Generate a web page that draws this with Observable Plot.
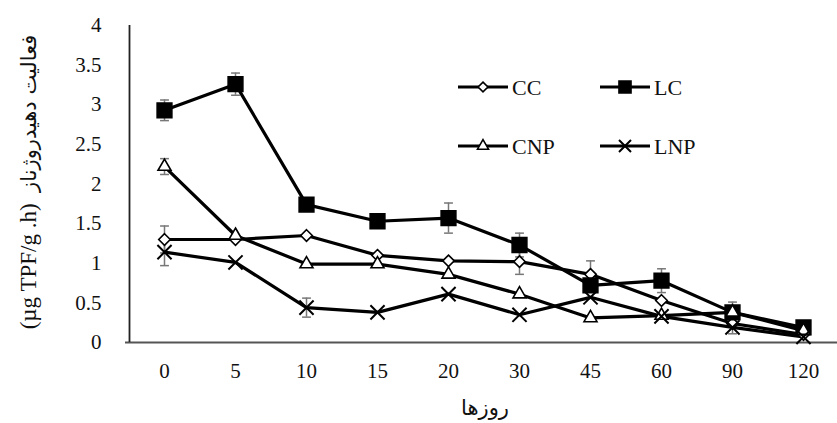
<!DOCTYPE html>
<html><head><meta charset="utf-8">
<script src="https://cdn.jsdelivr.net/npm/d3@7"></script>
<script src="https://cdn.jsdelivr.net/npm/@observablehq/plot@0.6"></script>
<style>
body{margin:0;background:#fff;}
#wrap{position:relative;width:837px;height:423px;overflow:hidden;font-family:"Liberation Serif","Times New Roman","DejaVu Sans",serif;}
.ylab{position:absolute;left:29px;top:182px;transform:translate(-50%,-50%) rotate(-90deg);white-space:nowrap;font-size:23px;color:#111;direction:ltr;}
.ylab .fa{direction:rtl;unicode-bidi:isolate;font-family:"DejaVu Sans",sans-serif;font-size:21px;}
.ylab .en{direction:ltr;unicode-bidi:isolate;}
.xlab{position:absolute;left:485px;top:408px;transform:translate(-50%,-50%);white-space:nowrap;font-size:21px;color:#111;font-family:"DejaVu Sans",sans-serif;}
#legend{position:absolute;left:0;top:0;}
</style></head><body><div id="wrap"></div>
<script>
const days = ["0","5","10","15","20","30","45","60","90","120"];
const yTicks = [0,0.5,1,1.5,2,2.5,3,3.5,4];
const seriesNames = ["CC","LC","CNP","LNP"];
const cc  = [1.30,1.30,1.35,1.10,1.03,1.02,0.86,0.53,0.24,0.10];
const lc  = [2.93,3.26,1.74,1.53,1.57,1.23,0.72,0.78,0.38,0.19];
const cnp = [2.22,1.35,0.99,0.99,0.86,0.61,0.31,0.34,0.38,0.15];
const lnp = [1.14,1.01,0.44,0.38,0.61,0.35,0.57,0.33,0.19,0.07];
const ccErr  = [0.17,0,0,0,0,0.16,0.17,0,0,0];
const lcErr  = [0.13,0.14,0,0,0.19,0.15,0,0.15,0.13,0];
const cnpErr = [0.10,0,0,0,0,0,0,0,0,0];
const lnpErr = [0.17,0,0.12,0,0,0,0,0,0.08,0];
const xLabel = "روزها";
const yLabelUnit = "(µg TPF/g .h)";
const yLabelText = "فعالیت دهیدروژناز";

const vals = {CC:cc, LC:lc, CNP:cnp, LNP:lnp};
const errs = {CC:ccErr, LC:lcErr, CNP:cnpErr, LNP:lnpErr};
const style = {
  CC:  {symbol:"diamond2", r:5.2, fill:"white"},
  LC:  {symbol:"square", r:8.3, fill:"black"},
  CNP: {symbol:"triangle2", r:6.2, fill:"white"},
  LNP: {symbol:"times", r:6.5, fill:"none"}
};
const data = [];
for (const s of seriesNames) days.forEach((d,i)=>data.push({series:s, day:d, v:vals[s][i], e:errs[s][i]}));
const errData = data.filter(d=>d.e>0);

const capSymbol = {draw(ctx, size){ const w=Math.sqrt(size)/2; ctx.moveTo(-w,0); ctx.lineTo(w,0); }};

const marks = [
  Plot.ruleY([0], {stroke:"#555", strokeWidth:2.2}),
  Plot.ruleX([days[0]], {dx:-35, stroke:"#222", strokeWidth:1.8}),
  Plot.axisY({ticks:yTicks, tickSize:0, tickPadding:24, tickFormat:d=>String(d), fontSize:21, label:null}),
  Plot.axisX({tickSize:0, tickPadding:21, fontSize:21, label:null, style:"letter-spacing:5px"}),
  Plot.ruleX(errData, {x:"day", y1:d=>d.v-d.e, y2:d=>d.v+d.e, stroke:"#777", strokeWidth:1.5}),
  Plot.dot(errData, {x:"day", y:d=>d.v+d.e, symbol:capSymbol, r:5, stroke:"#777", strokeWidth:1.5}),
  Plot.dot(errData, {x:"day", y:d=>d.v-d.e, symbol:capSymbol, r:5, stroke:"#777", strokeWidth:1.5}),
  Plot.line(data, {x:"day", y:"v", z:"series", stroke:"black", strokeWidth:3.2})
];
for (const s of seriesNames) {
  const st = style[s];
  marks.push(Plot.dot(data.filter(d=>d.series===s), {x:"day", y:"v", symbol:st.symbol, r:st.r, fill:st.fill, stroke:"black", strokeWidth: s==="LNP"?2:1.6}));
}

const chart = Plot.plot({
  width:837, height:423,
  marginLeft:125, marginRight:0, marginTop:25, marginBottom:81,
  style:{fontFamily:"Liberation Serif, Times New Roman, serif", color:"#111", background:"white", overflow:"visible"},
  x:{type:"point", domain:days, range:[160,807], padding:0},
  y:{domain:[0,4]},
  marks
});
const wrap = document.getElementById("wrap");
wrap.appendChild(chart);

// labels
const yl = document.createElement("div"); yl.className="ylab";
const en = document.createElement("span"); en.className="en"; en.textContent=yLabelUnit;
const sp = document.createTextNode("\u00a0\u00a0");
const fa = document.createElement("span"); fa.className="fa"; fa.textContent=yLabelText;
yl.appendChild(en); yl.appendChild(sp); yl.appendChild(fa);
wrap.appendChild(yl);
const xl = document.createElement("div"); xl.className="xlab"; xl.textContent=xLabel; wrap.appendChild(xl);

// legend
const leg = d3.select(wrap).append("svg").attr("id","legend").attr("width",837).attr("height",423);
const legPos = [
  {s:"CC", x:458, y:87}, {s:"LC", x:600, y:87},
  {s:"CNP", x:458, y:146}, {s:"LNP", x:600, y:146}
];
const symMap = {diamond2:d3.symbolDiamond2, square:d3.symbolSquare, triangle2:d3.symbolTriangle2, times:d3.symbolTimes};
for (const p of legPos) {
  const st = style[p.s];
  const g = leg.append("g").attr("transform",`translate(${p.x},${p.y})`);
  g.append("line").attr("x1",0).attr("x2",50).attr("stroke","black").attr("stroke-width",3);
  const rr = p.s==="LC" ? 6.8 : st.r*0.85;
  g.append("path").attr("transform","translate(25,0)")
    .attr("d", d3.symbol(symMap[st.symbol], Math.PI*rr*rr)())
    .attr("fill", st.fill).attr("stroke","black").attr("stroke-width", p.s==="LNP"?2:1.6);
  g.append("text").attr("x",54).attr("y",0).attr("dy","0.36em")
    .attr("font-size",22).attr("font-family","Liberation Serif, Times New Roman, serif").attr("fill","#111").text(p.s);
}
</script></body></html>
